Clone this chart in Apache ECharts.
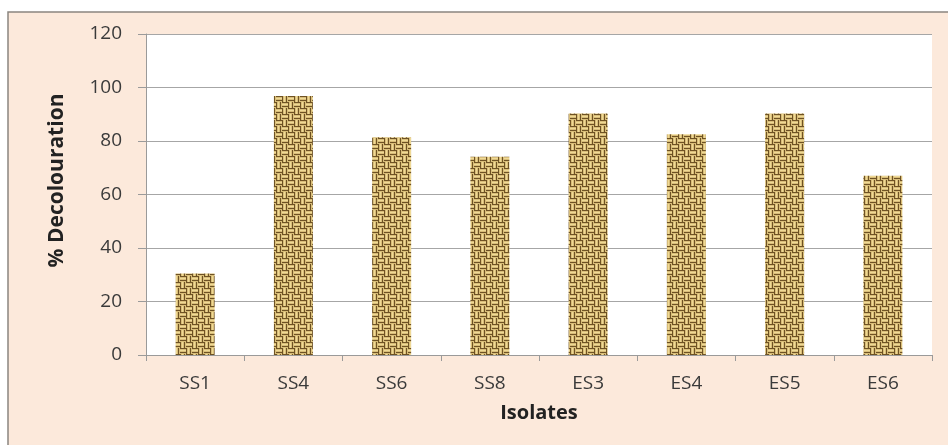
<!DOCTYPE html>
<html>
<head>
<meta charset="utf-8">
<script src="https://cdn.jsdelivr.net/npm/echarts@6/dist/echarts.min.js"></script>
<style>
html,body{margin:0;padding:0;background:#ffffff;}
#c{width:948px;height:445px;}
</style>
</head>
<body>
<div id="c"></div>
<script>
var categories = ['SS1','SS4','SS6','SS8','ES3','ES4','ES5','ES6'];
var decolouration = [30.5, 96.8, 81.4, 74.1, 90.3, 82.5, 90.3, 67.0];
var yTicks = [0, 20, 40, 60, 80, 100, 120];

function weave() {
  var s = 12, c = document.createElement('canvas');
  c.width = s; c.height = s;
  var g = c.getContext('2d');
  g.fillStyle = '#c3a45c'; g.fillRect(0,0,s,s);
  var cell = 6;
  for (var i = 0; i < 2; i++) {
    for (var j = 0; j < 2; j++) {
      var x0 = i*cell, y0 = j*cell;
      var horiz = (i + j) % 2 === 0;
      for (var k = 0; k < 3; k++) {
        g.fillStyle = k === 1 ? '#efd996' : '#6e5224';
        if (horiz) g.fillRect(x0, y0 + k*2, cell, 1);
        else g.fillRect(x0 + k*2, y0, 1, cell);
        g.fillStyle = '#d8bd78';
        if (horiz) g.fillRect(x0, y0 + k*2 + 1, cell, 1);
        else g.fillRect(x0 + k*2 + 1, y0, 1, cell);
      }
    }
  }
  return c;
}

var chart = echarts.init(document.getElementById('c'));
chart.setOption({
  backgroundColor: '#ffffff',
  animation: false,
  graphic: [{
    type: 'rect', z: -10, silent: true,
    shape: {x: 8, y: 12, width: 960, height: 460},
    style: {fill: '#fce9db', stroke: '#8a8580', lineWidth: 1.5}
  }, {
    type: 'rect', z: -5, silent: true,
    shape: {x: 146, y: 34, width: 786, height: 321},
    style: {fill: '#ffffff'}
  }],
  grid: {left: 146, right: 16, top: 34, bottom: 90, containLabel: false},
  xAxis: {
    type: 'category',
    data: categories,
    name: 'Isolates',
    nameLocation: 'middle',
    nameGap: 48,
    nameTextStyle: {fontFamily: 'Open Sans', fontWeight: 'bold', fontSize: 20, color: '#222'},
    axisLine: {lineStyle: {color: '#9a9a9a', width: 1}},
    axisTick: {show: true, length: 6, lineStyle: {color: '#9a9a9a'}},
    axisLabel: {fontFamily: 'Open Sans', fontSize: 19, color: '#3a3a3a', margin: 19}
  },
  yAxis: {
    type: 'value',
    min: 0, max: 120, interval: 20,
    name: '% Decolouration',
    nameLocation: 'middle',
    nameGap: 78,
    nameTextStyle: {fontFamily: 'Open Sans', fontWeight: 'bold', fontSize: 21, color: '#222', padding: [0, 0, 0, 28]},
    axisLine: {show: true, lineStyle: {color: '#9a9a9a', width: 1}},
    axisTick: {show: true, length: 8, lineStyle: {color: '#9a9a9a'}},
    splitLine: {lineStyle: {color: '#a6a6a6', width: 1}},
    axisLabel: {fontFamily: 'Open Sans', fontSize: 19, color: '#3a3a3a', margin: 24,
      formatter: function (v) { return yTicks.indexOf(v) >= 0 ? String(v) : ''; }}
  },
  series: [{
    type: 'bar',
    data: decolouration,
    barWidth: 39,
    itemStyle: {color: {image: weave(), repeat: 'repeat'}}
  }]
});
</script>
</body>
</html>
